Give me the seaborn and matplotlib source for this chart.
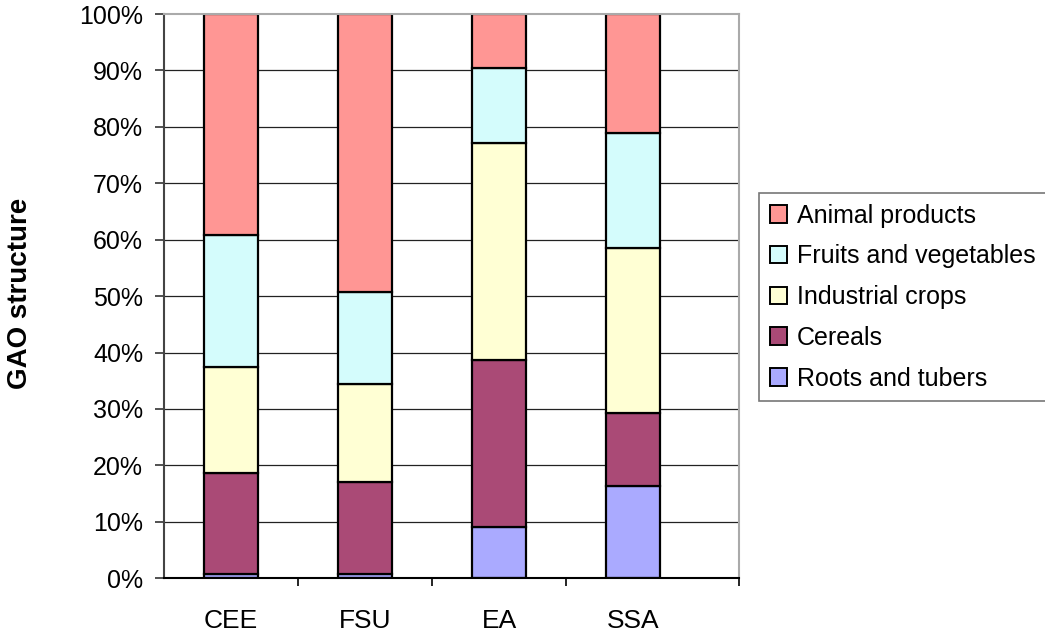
import matplotlib
matplotlib.use("Agg")
import matplotlib.pyplot as plt
from matplotlib.patches import Patch
from matplotlib.ticker import FuncFormatter, FixedLocator
import numpy as np
import seaborn as sns

# Regions and the share (%) of each product group in gross agricultural output
regions = ["CEE", "FSU", "EA", "SSA"]
roots_tubers = [0.7, 0.7, 9.1, 16.4]
cereals = [17.9, 16.4, 29.6, 12.9]
industrial_crops = [18.9, 17.3, 38.4, 29.2]
fruits_vegetables = [23.3, 16.4, 13.3, 20.5]
animal_products = [39.2, 49.2, 9.6, 21.0]

series_names = ["Roots and tubers", "Cereals", "Industrial crops",
                "Fruits and vegetables", "Animal products"]
series_values = [roots_tubers, cereals, industrial_crops,
                 fruits_vegetables, animal_products]
series_colors = ["#AAAAFF", "#AA4A76", "#FFFFD4", "#D4FCFC", "#FF9694"]

sns.set_theme(style="white")
plt.rcParams["font.family"] = ["Liberation Sans", "DejaVu Sans"]
plt.rcParams["text.color"] = "black"
plt.rcParams["xtick.color"] = "black"
plt.rcParams["ytick.color"] = "black"
plt.rcParams["axes.labelcolor"] = "black"

fig = plt.figure(figsize=(10.45, 6.34), dpi=100)
ax = fig.add_axes([0.157, 0.0879, 0.550, 0.8900])

# Horizontal grid at every 10 %
for v in range(10, 100, 10):
    ax.axhline(v, color="#222222", linewidth=0.9, zorder=0)

bottom = np.zeros(len(regions))
for name, vals, col in zip(series_names, series_values, series_colors):
    sns.barplot(x=regions, y=vals, bottom=bottom, color=col, width=0.4,
                edgecolor="black", linewidth=1.6, saturation=1, ax=ax,
                zorder=2)
    bottom = bottom + np.array(vals)

ax.set_ylim(0, 100)
ax.set_xlim(-0.5, 3.787)

# Y axis
ax.yaxis.set_major_locator(FixedLocator(np.arange(0, 101, 10)))
ax.yaxis.set_major_formatter(FuncFormatter(lambda v, p: f"{v:.0f}%"))
ax.tick_params(axis="y", direction="out", length=6.5, width=1.2,
               color="#333333", labelcolor="black", labelsize=18, pad=8.5,
               left=True)

# X axis: labels centred on bars, tick marks between categories
ax.set_xticks(range(len(regions)))
ax.set_xticklabels(regions)
ax.set_xticks([0.5, 1.5, 2.5, 3.787], minor=True)
ax.tick_params(axis="x", which="major", length=0, labelsize=19, pad=22,
               labelcolor="black")
ax.tick_params(axis="x", which="minor", direction="out", length=6,
               width=1.2, color="black", bottom=True)

for s in ["top", "right"]:
    ax.spines[s].set_color("#AAAAAA")
    ax.spines[s].set_linewidth(1.5)
ax.spines["left"].set_color("#444444")
ax.spines["left"].set_linewidth(1.5)
ax.spines["bottom"].set_color("black")
ax.spines["bottom"].set_linewidth(1.5)

ax.set_xlabel("")
ax.set_ylabel("GAO structure", fontsize=20, fontweight="bold", color="black")
ax.yaxis.set_label_coords(-0.228, 0.505)

handles = [Patch(facecolor=c, edgecolor="black", linewidth=1.4, label=n)
           for n, c in zip(series_names, series_colors)][::-1]
leg = fig.legend(handles=handles, loc="upper left",
                 bbox_to_anchor=(759 / 1045, 1 - 193 / 634),
                 fontsize=18, frameon=True, fancybox=False,
                 handlelength=0.7, handleheight=0.7, handletextpad=0.4,
                 labelspacing=0.67, borderpad=0.42, borderaxespad=0)
leg.get_frame().set_edgecolor("#555555")
leg.get_frame().set_linewidth(1.2)
for t in leg.get_texts():
    t.set_color("black")

fig.savefig("out.png", dpi=100)
